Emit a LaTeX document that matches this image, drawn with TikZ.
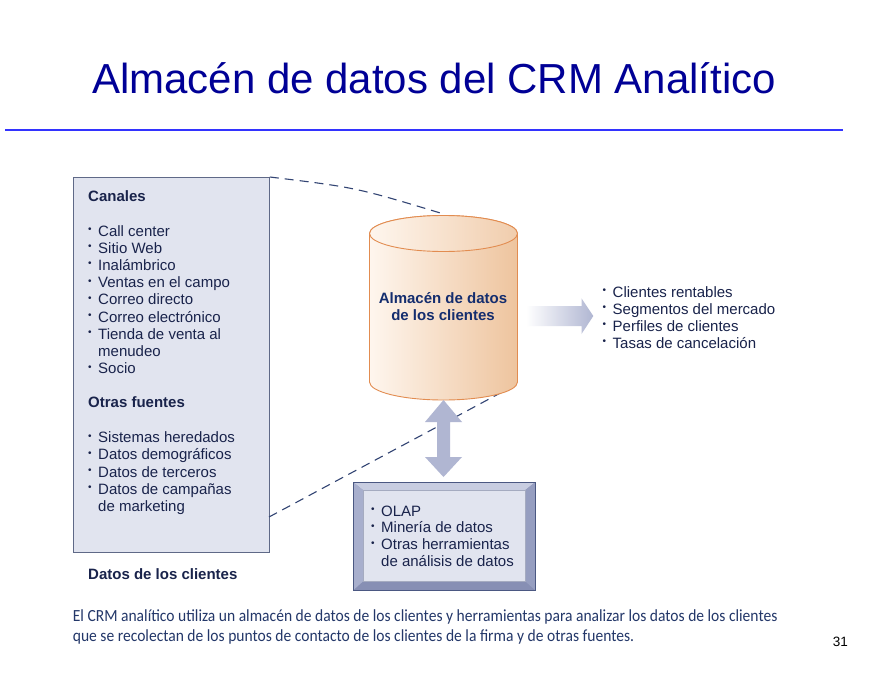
\documentclass[tikz,border=0pt]{standalone}
\usepackage{fontspec}
\setmainfont{Liberation Sans}
\newfontfamily\capfont[FakeStretch=0.915]{Carlito}
\usepackage{xcolor}
\usepackage{tikz}
\usetikzlibrary{
  calc,%
  positioning
}
\definecolor{titleblue}{RGB}{0,0,150}
\definecolor{rulblue}{RGB}{51,51,255}
\definecolor{boxfill}{RGB}{225,228,239}
\definecolor{boxdraw}{RGB}{95,105,135}
\definecolor{txtnavy}{RGB}{25,35,75}
\definecolor{cyllight}{RGB}{254,246,238}
\definecolor{cyldark}{RGB}{238,196,158}
\definecolor{cyldraw}{RGB}{226,140,80}
\definecolor{cyltext}{RGB}{20,45,110}
\definecolor{arrowgray}{RGB}{176,182,210}
\definecolor{dashcol}{RGB}{50,68,115}
\definecolor{bevtop}{RGB}{200,205,225}
\definecolor{bevleft}{RGB}{168,175,205}
\definecolor{bevright}{RGB}{150,158,192}
\definecolor{bevbot}{RGB}{135,143,180}
\definecolor{bevdraw}{RGB}{75,88,130}
\definecolor{capcol}{RGB}{35,55,105}

% bullet and indent for the lists
\newcommand{\blt}{\makebox[10pt][l]{\raisebox{3.5pt}{\fontsize{10}{10}\selectfont •}}}
\newcommand{\cnt}{\makebox[10pt]{}}

\tikzset{>=latex}
\tikzset{
  panel/.style={draw=boxdraw, fill=boxfill, line width=0.8pt, inner sep=0pt},
  item/.style={anchor=base west, inner sep=0pt, text=txtnavy,
    font=\fontsize{15}{17}\selectfont},
  head/.style={item, font=\fontsize{15}{17}\selectfont\bfseries},
  dashline/.style={draw=dashcol, line width=1.1pt, dash pattern=on 9pt off 6pt},
  caption/.style={anchor=base west, inner sep=0pt, text=capcol,
    font=\capfont\fontsize{17}{20}\selectfont},
}

\begin{document}
\begin{tikzpicture}[x=1pt, y=-1pt]
  \fill[white] (0,0) rectangle (890,677);
  \useasboundingbox (0,0) rectangle (890,677);

  \node[anchor=base, inner sep=0pt, text=titleblue,
    font=\fontsize{42}{50}\selectfont] (titulo) at (434,93.3)
    {Almacén de datos del CRM Analítico};
  \coordinate (reglaA) at (5,130);
  \coordinate (reglaB) at (843,130);
  \draw[rulblue, line width=2pt] (reglaA) -- (reglaB);

  % fuentes de datos
  \node[panel, anchor=north west, minimum width=196pt, minimum height=375pt]
    (fuentes) at (73,177) {};
  \node[head] (canales) at (88,201) {Canales};
  \foreach \txt [count=\i from 0] in {\blt Call center, \blt Sitio Web,
    \blt Inalámbrico, \blt Ventas en el campo, \blt Correo directo,
    \blt Correo electrónico, \blt Tienda de venta al, \cnt menudeo, \blt Socio}
    \node[item] (canal\i) at (88,{236+17.2*\i}) {\txt};
  \node[head] (otras) at (88,407.3) {Otras fuentes};
  \foreach \txt [count=\i from 0] in {\blt Sistemas heredados,
    \blt Datos demográficos, \blt Datos de terceros, \blt Datos de campañas,
    \cnt de marketing}
    \node[item] (otra\i) at (88,{442.7+17.2*\i}) {\txt};
  \node[head] (datos) at (88,579) {Datos de los clientes};

  % lineas de zoom
  \coordinate (dashsrc) at (269,517);
  \coordinate (dashtop) at (442,213.5);
  \coordinate (dashbot) at (504,391);
  \draw[dashline] (fuentes.north east) .. controls (356,187.5) .. (dashtop);
  \draw[dashline] (dashsrc) -- (dashbot);

  % almacen
  \coordinate (cyltop) at (443.5,233.5);
  \path[left color=cyllight, right color=cyldark, draw=cyldraw, line width=0.9pt]
    (369.5,233.5) -- (369.5,382)
    arc[start angle=180, end angle=0, x radius=74, y radius=18]
    -- (517.5,233.5)
    arc[start angle=0, end angle=-180, x radius=74, y radius=18] -- cycle;
  \path[left color=cyllight, right color=cyldark!85!white, draw=cyldraw,
    line width=0.9pt] (cyltop) ellipse[x radius=74, y radius=18];
  \node[font=\fontsize{15}{17}\selectfont\bfseries, text=cyltext,
    align=center, inner sep=0pt] (almacen) at (443,307)
    {Almacén de datos\\de los clientes};

  % flecha a resultados
  \path[left color=white, right color=arrowgray]
    (526,306) -- (581.5,306) -- (581.5,298.3) -- (593.3,316)
    -- (581.5,334) -- (581.5,326) -- (526,326) -- cycle;
  \foreach \txt [count=\i from 0] in {\blt Clientes rentables,
    \blt Segmentos del mercado, \blt Perfiles de clientes,
    \blt Tasas de cancelación}
    \node[item] (result\i) at (602.5,{297.3+17*\i}) {\txt};

  % flecha doble
  \fill[arrowgray] (443.5,400) -- (462,422) -- (450,422) -- (450,457)
    -- (462,457) -- (443.5,477) -- (425,457) -- (437,457) -- (437,422)
    -- (425,422) -- cycle;

  % herramientas
  \node[anchor=north west, minimum width=182pt, minimum height=108pt,
    inner sep=0pt, fill=bevbot] (herramientas) at (353,482) {};
  \fill[bevtop] (herramientas.north west) -- (herramientas.north east)
    -- ($(herramientas.north east)+(-10,8)$)
    -- ($(herramientas.north west)+(10,8)$) -- cycle;
  \fill[bevleft] (herramientas.north west)
    -- ($(herramientas.north west)+(10,8)$)
    -- ($(herramientas.south west)+(10,-9)$)
    -- (herramientas.south west) -- cycle;
  \fill[bevright] (herramientas.north east)
    -- ($(herramientas.north east)+(-10,8)$)
    -- ($(herramientas.south east)+(-10,-9)$)
    -- (herramientas.south east) -- cycle;
  \draw[fill=boxfill, draw=bevdraw!50, line width=0.6pt]
    ($(herramientas.north west)+(10,8)$)
    rectangle ($(herramientas.south east)+(-10,-9)$);
  \draw[bevdraw, line width=1pt] (herramientas.north west)
    rectangle (herramientas.south east);
  \foreach \txt [count=\i from 0] in {\blt OLAP, \blt Minería de datos,
    \blt Otras herramientas, \cnt de análisis de datos}
    \node[item] (herr\i) at (371,{516+16.9*\i}) {\txt};

  % pie de figura
  \node[caption] (pie1) at (72.7,621) {El CRM analítico utiliza un almacén
    de datos de los clientes y herramientas para analizar los datos de los
    clientes};
  \node[caption] (pie2) at (72.7,641.7) {que se recolectan de los puntos de
    contacto de los clientes de la firma y de otras fuentes.};
  \node[anchor=base east, inner sep=0pt, font=\fontsize{13.5}{16}\selectfont]
    (pagina) at (848,646.5) {31};
\end{tikzpicture}
\end{document}
